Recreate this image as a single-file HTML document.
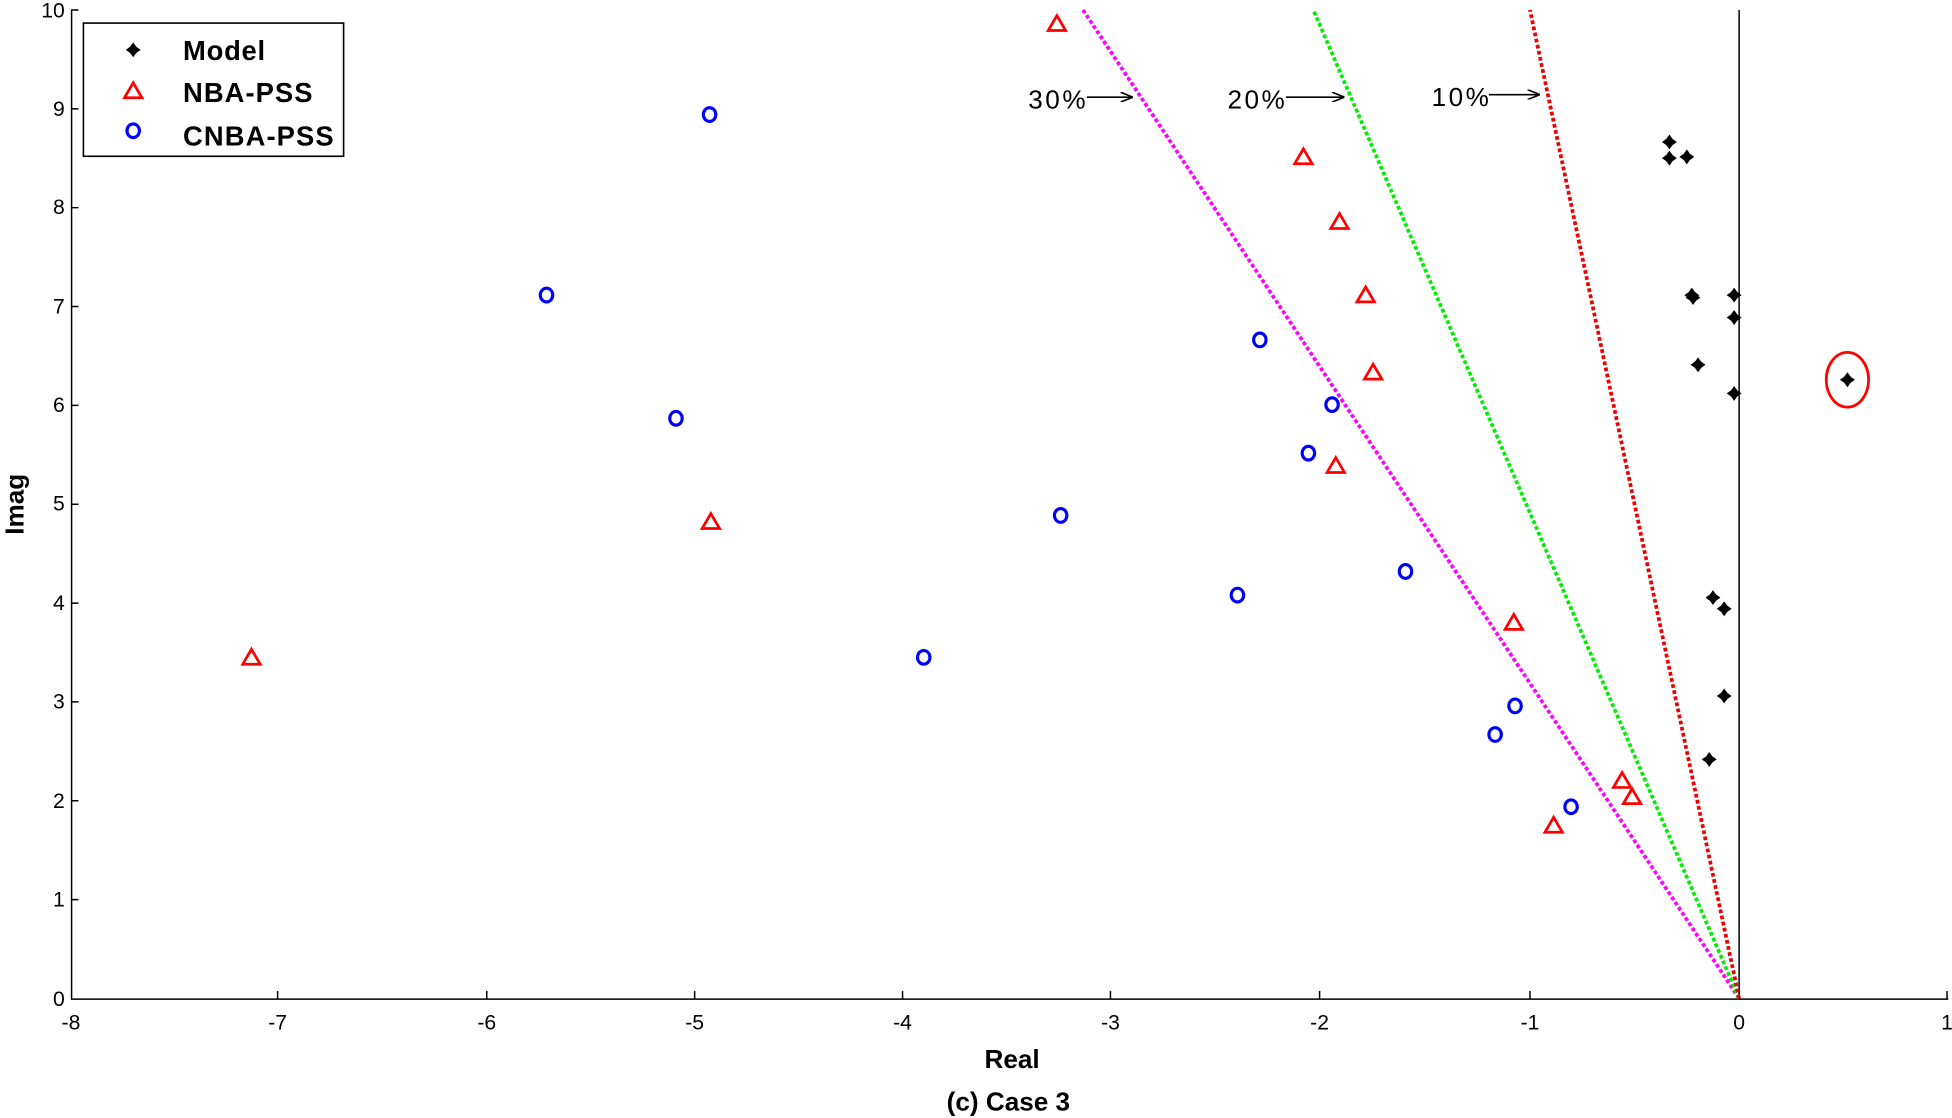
<!DOCTYPE html>
<html><head><meta charset="utf-8"><style>html,body{margin:0;padding:0;background:#fff}svg{display:block}</style></head>
<body>
<svg width="1952" height="1118" viewBox="0 0 1568 898" xmlns="http://www.w3.org/2000/svg" font-family="Liberation Sans, sans-serif">
<defs>
<g id="m"><path d="M0,-6 L2.5,-2.5 L6,0 L2.5,2.5 L0,6 L-2.5,2.5 L-6,0 L-2.5,-2.5Z" fill="#000"/></g>
<g id="t"><path d="M0,-6.5 L7,5.5 L-7,5.5Z" fill="none" stroke="#f00" stroke-width="2.2"/></g>
<g id="c"><ellipse rx="5" ry="5.5" fill="none" stroke="#00f" stroke-width="2.5"/></g>
<marker id="ar" markerWidth="10" markerHeight="8" refX="10" refY="4" orient="auto" markerUnits="userSpaceOnUse"><path d="M0,0 L10,4 L0,8" fill="none" stroke="#000" stroke-width="1.3"/></marker>
</defs>
<g stroke="#000" stroke-width="1.2" fill="none">
<path d="M57.5,8 V802.5 H1565"/>
<path d="M57,8 h6 M57,87.4 h6 M57,166.8 h6 M57,246.2 h6 M57,325.6 h6 M57,405 h6 M57,484.4 h6 M57,563.8 h6 M57,643.2 h6 M57,722.6 h6"/>
<path d="M223,802 v-6 M391,802 v-6 M558,802 v-6 M725,802 v-6 M892,802 v-6 M1060,802 v-6 M1229,802 v-6 M1397,802 v-6 M1564,802 v-6"/>
<path d="M1397,8 V802"/>
</g>
<g font-size="17" fill="#000">
<g text-anchor="end">
<text x="52" y="14">10</text><text x="52" y="93">9</text><text x="52" y="172">8</text><text x="52" y="252">7</text><text x="52" y="331">6</text><text x="52" y="410">5</text><text x="52" y="490">4</text><text x="52" y="569">3</text><text x="52" y="649">2</text><text x="52" y="728">1</text><text x="52" y="808">0</text>
</g>
<g text-anchor="middle">
<text x="57" y="827">-8</text><text x="223" y="827">-7</text><text x="391" y="827">-6</text><text x="558" y="827">-5</text><text x="725" y="827">-4</text><text x="892" y="827">-3</text><text x="1060" y="827">-2</text><text x="1229" y="827">-1</text><text x="1397" y="827">0</text><text x="1564" y="827">1</text>
</g>
</g>
<text x="813" y="858" font-size="21" font-weight="bold" text-anchor="middle">Real</text>
<text x="810" y="892" font-size="21" font-weight="bold" text-anchor="middle">(c) Case 3</text>
<text transform="translate(19,405) rotate(-90)" font-size="21" font-weight="bold" text-anchor="middle">Imag</text>
<g stroke-width="3" stroke-dasharray="3,2">
<line x1="1397" y1="802" x2="870" y2="8" stroke="#f0f"/>
<line x1="1397" y1="802" x2="1055" y2="8" stroke="#0e0"/>
<line x1="1397" y1="802" x2="1229" y2="8" stroke="#e00"/>
</g>
<g font-size="21">
<text x="826" y="87" textLength="46">30%</text><text x="986" y="87" textLength="46">20%</text><text x="1150" y="85" textLength="46">10%</text>
</g>
<g stroke="#000" stroke-width="1.3" marker-end="url(#ar)">
<line x1="873" y1="78" x2="910" y2="78"/><line x1="1033" y1="78" x2="1080" y2="78"/><line x1="1196" y1="76" x2="1237" y2="76"/>
</g>
<g>
<use href="#m" x="1341" y="114"/><use href="#m" x="1341" y="127"/><use href="#m" x="1355" y="126"/><use href="#m" x="1359" y="237"/><use href="#m" x="1360" y="239"/><use href="#m" x="1393" y="237"/><use href="#m" x="1393" y="255"/><use href="#m" x="1364" y="293"/><use href="#m" x="1393" y="316"/><use href="#m" x="1484" y="305"/><use href="#m" x="1376" y="480"/><use href="#m" x="1385" y="489"/><use href="#m" x="1385" y="559"/><use href="#m" x="1373" y="610"/>
</g>
<ellipse cx="1484" cy="305" rx="17" ry="22" fill="none" stroke="#f00" stroke-width="2.2"/>
<g>
<use href="#t" x="849" y="19"/><use href="#t" x="1047" y="126"/><use href="#t" x="1076" y="178"/><use href="#t" x="1097" y="237"/><use href="#t" x="1103" y="299"/><use href="#t" x="1073" y="374"/><use href="#t" x="571" y="419"/><use href="#t" x="202" y="528"/><use href="#t" x="1216" y="500"/><use href="#t" x="1303" y="627"/><use href="#t" x="1311" y="640"/><use href="#t" x="1248" y="663"/>
</g>
<g>
<use href="#c" x="570" y="92"/><use href="#c" x="439" y="237"/><use href="#c" x="543" y="336"/><use href="#c" x="1012" y="273"/><use href="#c" x="1070" y="325"/><use href="#c" x="1051" y="364"/><use href="#c" x="852" y="414"/><use href="#c" x="994" y="478"/><use href="#c" x="742" y="528"/><use href="#c" x="1129" y="459"/><use href="#c" x="1217" y="567"/><use href="#c" x="1201" y="590"/><use href="#c" x="1262" y="648"/>
</g>
<rect x="67" y="18.5" width="209" height="107" fill="#fff" stroke="#000" stroke-width="1.3"/>
<use href="#m" x="107" y="40"/><use href="#t" x="107" y="73"/><use href="#c" x="107" y="105"/>
<g font-size="22" font-weight="bold">
<text x="147" y="48" textLength="66">Model</text><text x="147" y="82" textLength="104">NBA-PSS</text><text x="147" y="117" textLength="121">CNBA-PSS</text>
</g>
</svg>
</body></html>
